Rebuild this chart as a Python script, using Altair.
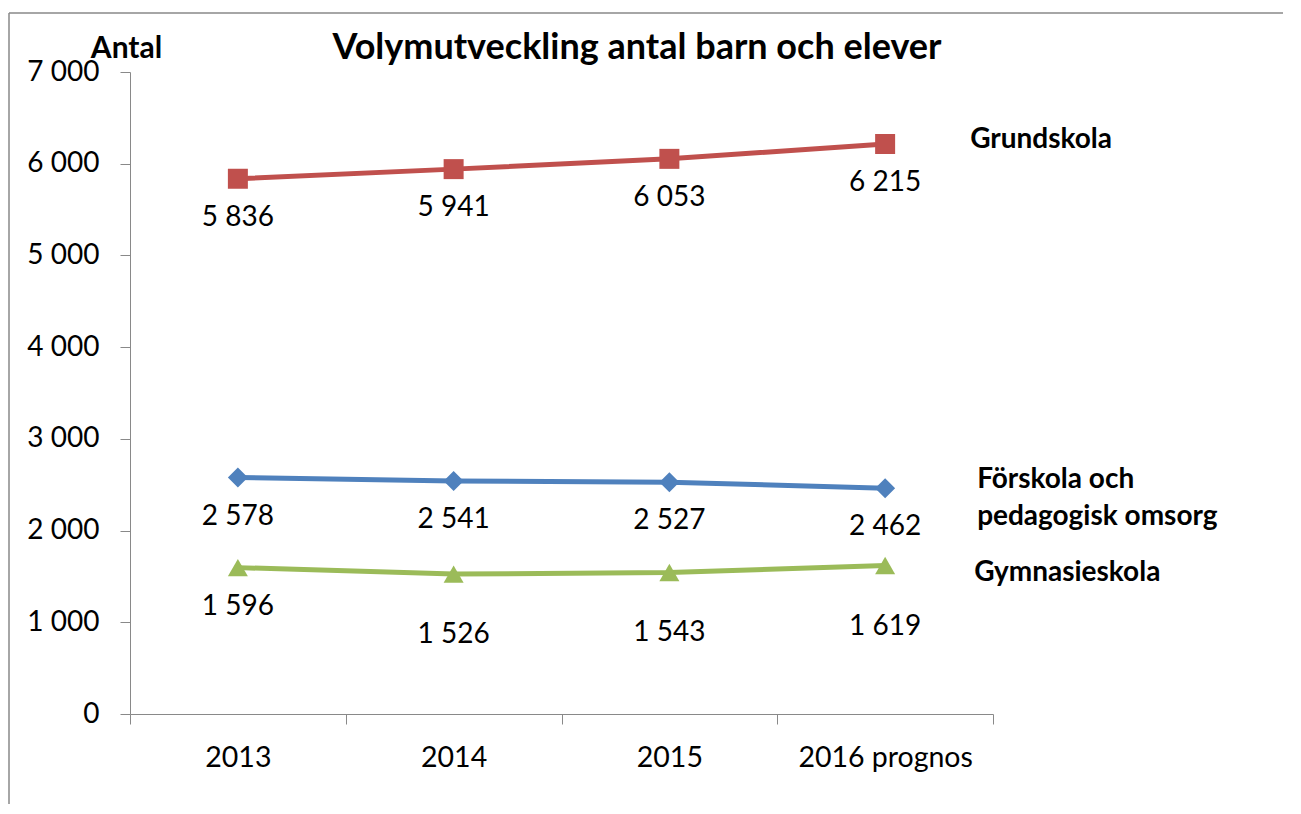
import altair as alt
import pandas as pd

years = ["2013", "2014", "2015", "2016 prognos"]
series = ["Förskola och pedagogisk omsorg", "Grundskola", "Gymnasieskola"]
forskola = [2578, 2541, 2527, 2462]
grundskola = [5836, 5941, 6053, 6215]
gymnasie = [1596, 1526, 1543, 1619]
series_labels = ["Förskola och\npedagogisk omsorg", "Grundskola", "Gymnasieskola"]
colors = ["#4F81BD", "#C0504D", "#9BBB59"]
shapes = ["diamond", "square", "triangle-up"]
y_ticks = [0, 1000, 2000, 3000, 4000, 5000, 6000, 7000]
title_text = "Volymutveckling antal barn och elever"

rows = []
for s, vals, lab in zip(series, [forskola, grundskola, gymnasie], series_labels):
    for i, (yr, v) in enumerate(zip(years, vals)):
        rows.append({"series": s, "year": yr, "value": v,
                     "label": f"{v:,}".replace(",", " "),
                     "name": lab, "last": i == len(years) - 1})
df = pd.DataFrame(rows)

W, H = 863, 642
FONT = "Lato"
GRAY = "#898989"

x = alt.X("year:N", sort=years,
          scale=alt.Scale(paddingInner=0, paddingOuter=0),
          axis=alt.Axis(title=None, labelAngle=0, tickBand="extent", tickSize=10,
                        tickColor=GRAY, domainColor=GRAY, labelFontSize=28.5,
                        labelColor="black", labelPadding=19, grid=False))
y = alt.Y("value:Q", scale=alt.Scale(domain=[0, 7000], nice=False),
          axis=alt.Axis(values=y_ticks,
                        labelExpr="replace(format(datum.value, ','), ',', ' ')",
                        tickSize=10, tickColor=GRAY, domainColor=GRAY,
                        labelFontSize=28, labelColor="black", labelPadding=21,
                        grid=False, title="Antal", titleAngle=0, titleAlign="center",
                        titleBaseline="middle", titleX=-4, titleY=-24,
                        titleFontSize=30, titleFontWeight="bold", titleColor="black"))
color = alt.Color("series:N", scale=alt.Scale(domain=series, range=colors), legend=None)
shape = alt.Shape("series:N", scale=alt.Scale(domain=series, range=shapes), legend=None)

base = alt.Chart(df)
lines = base.mark_line(strokeWidth=5).encode(x=x, y=y, color=color)
points = base.mark_point(filled=True, size=400, opacity=1).encode(x=x, y=y, color=color, shape=shape)

low_expr = "datum.series == 'Gymnasieskola' && datum.year != '2013'"
labels_a = base.mark_text(fontSize=28, dy=39, color="black").encode(
    x=x, y=y, text="label:N").transform_filter(f"!({low_expr})")
labels_b = base.mark_text(fontSize=28, dy=61, color="black").encode(
    x=x, y=y, text="label:N").transform_filter(low_expr)

name_layers = []
for s, dx, dy in [("Grundskola", 85, -4),
                  ("Förskola och pedagogisk omsorg", 92, -8),
                  ("Gymnasieskola", 89, 7)]:
    name_layers.append(
        base.mark_text(fontSize=28, fontWeight="bold", align="left", baseline="middle",
                       dx=dx, dy=dy, lineBreak="\n", lineHeight=37, color="black")
        .encode(x=x, y=y, text="name:N")
        .transform_filter(f"datum.last && datum.series == '{s}'"))

title = alt.Chart(pd.DataFrame({"t": [title_text]})).mark_text(
    fontSize=36, fontWeight="bold", align="center", baseline="middle", color="black"
).encode(x=alt.value(507), y=alt.value(-24), text="t:N")

frame_top = alt.Chart(pd.DataFrame({"a": [0]})).mark_rule(color=GRAY, strokeWidth=1.5).encode(
    x=alt.value(-121), x2=alt.value(W + 400), y=alt.value(-59))
frame_left = alt.Chart(pd.DataFrame({"a": [0]})).mark_rule(color=GRAY, strokeWidth=1.5).encode(
    x=alt.value(-121), y=alt.value(-59), y2=alt.value(H + 300))

chart = alt.layer(frame_top, frame_left, lines, points, labels_a, labels_b, *name_layers, title).properties(
    width=W, height=H,
    autosize=alt.AutoSizeParams(type="none"),
    padding={"left": 122, "top": 64, "right": 290, "bottom": 90},
).configure(font=FONT).configure_view(stroke=None)

chart.save("out.html", embed_options={"renderer": "svg", "actions": False})
